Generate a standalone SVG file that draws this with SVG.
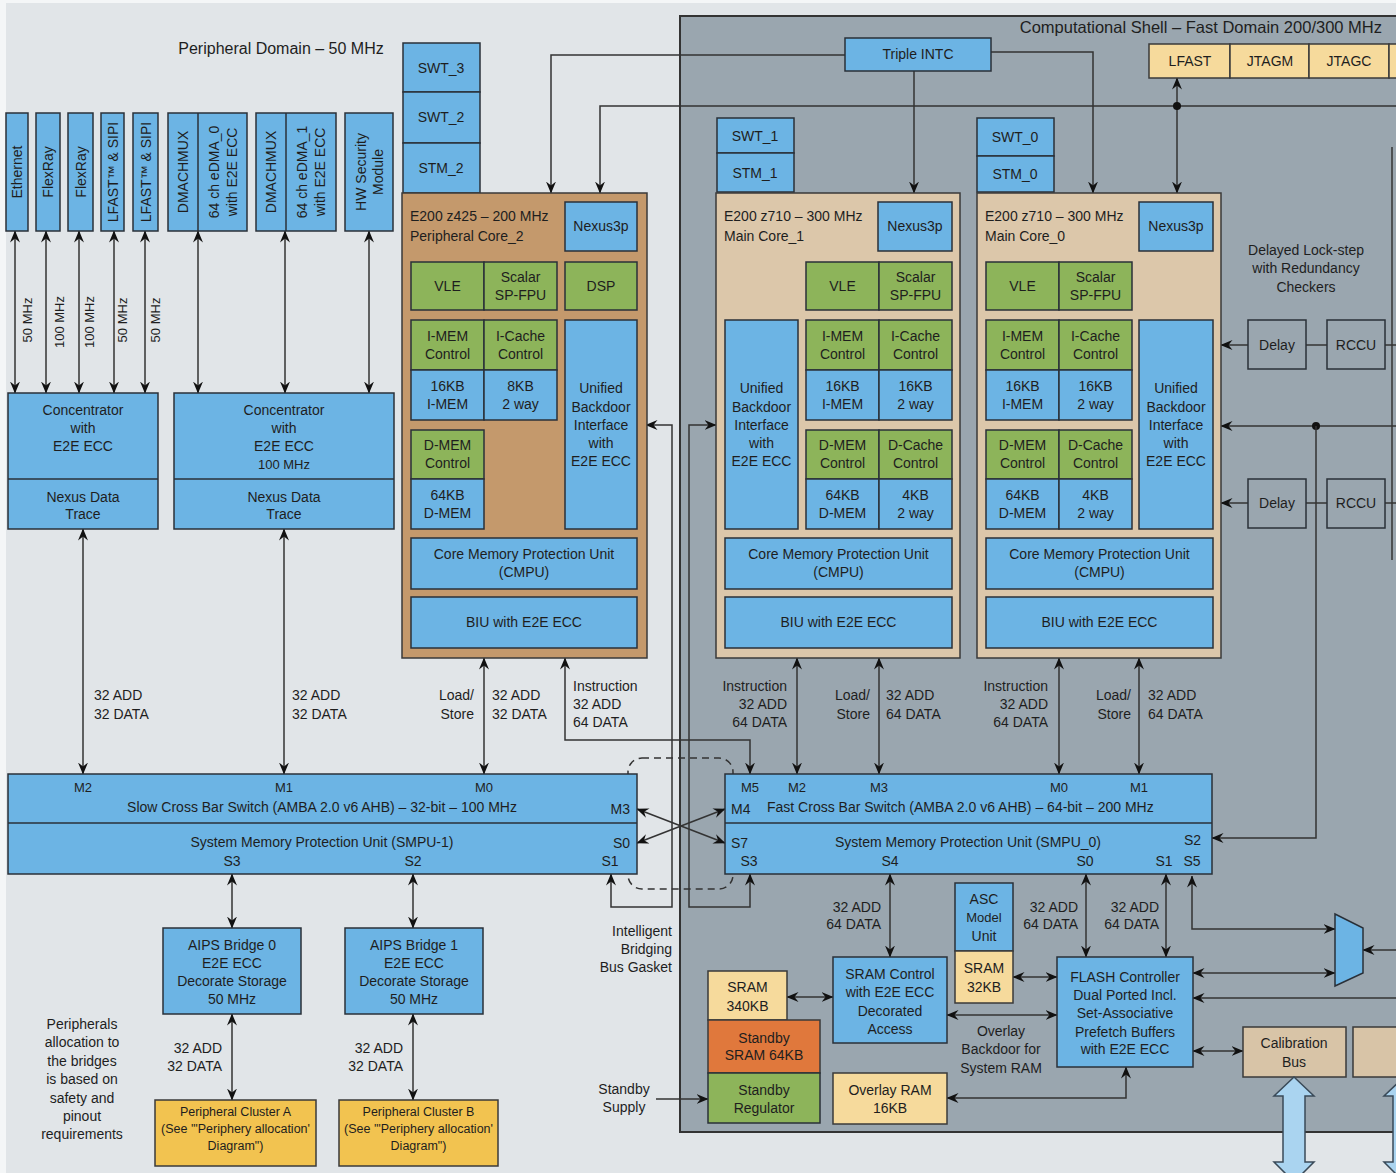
<svg xmlns="http://www.w3.org/2000/svg" width="1396" height="1173" viewBox="0 0 1396 1173">
<style>
.t{font-family:"Liberation Sans",Arial,sans-serif;font-size:14px;fill:#1e1e1e}
.m{text-anchor:middle}
.e{text-anchor:end}
.s{font-size:13px}
.xs{font-size:12.5px}
.bl{fill:#6cb4e4;stroke:#2a3038;stroke-width:1.5}
.gr{fill:#8db45a;stroke:#2a3038;stroke-width:1.5}
.br{fill:#c4996c;stroke:#3a3a3a;stroke-width:1.5}
.tn{fill:#dcc7aa;stroke:#3a3a3a;stroke-width:1.5}
.ye{fill:#f6da9c;stroke:#3a3a3a;stroke-width:1.5}
.pc{fill:#f2c350;stroke:#3a3a3a;stroke-width:1.5}
.or{fill:#e0783c;stroke:#3a3a3a;stroke-width:1.5}
.cb{fill:#d8c4a7;stroke:#3a3a3a;stroke-width:1.5}
.nf{fill:none;stroke:#2a3038;stroke-width:1.5}
.ln{fill:none;stroke:#333;stroke-width:1.5}
.lb{fill:none;stroke:#333;stroke-width:1.5;marker-start:url(#a);marker-end:url(#a)}
.le{fill:none;stroke:#333;stroke-width:1.5;marker-end:url(#a)}
.ds{fill:none;stroke:#333;stroke-width:1.5;stroke-dasharray:7 5}
</style>
<defs>
<marker id="a" viewBox="0 0 12 10" refX="11.5" refY="5" markerWidth="12" markerHeight="10" markerUnits="userSpaceOnUse" orient="auto-start-reverse"><path d="M0,0 L12,5 L0,10 L4,5 Z" fill="#111"/></marker>
</defs>
<rect x="0" y="0" width="1396" height="1173" fill="#f4f6f7"/>
<rect x="6" y="3" width="1390" height="1170" fill="#e1e5e8"/>
<g id="shell">
<rect x="680" y="16" width="730" height="1116" fill="#9aa6af" stroke="#333" stroke-width="2"/>
<text class="t e" x="1382" y="33" style="font-size:16.5px">Computational Shell – Fast Domain 200/300 MHz</text>
</g>
<text class="t m" x="281" y="54" style="font-size:16px">Peripheral Domain – 50 MHz</text>

<g id="connectors">
<path class="lb" d="M15,231 V393"/>
<path class="lb" d="M46,231 V393"/>
<path class="lb" d="M79,231 V393"/>
<path class="lb" d="M114,231 V393"/>
<path class="lb" d="M145,231 V393"/>
<path class="lb" d="M198,231 V393"/>
<path class="lb" d="M285,231 V393"/>
<path class="lb" d="M369,231 V393"/>
<path class="lb" d="M83,529 V774"/>
<path class="lb" d="M284,529 V774"/>
<path class="le" d="M845,55 H551 V193"/>
<path class="le" d="M914,71 V193"/>
<path class="le" d="M991,52 H1093 V193"/>
<path class="le" d="M1396,106 H600 V193"/>
<path class="lb" d="M1177,78 V193"/>
<circle cx="1177" cy="106" r="4" fill="#111"/>
<path class="le" d="M1248,345 H1221"/>
<path class="ln" d="M1306,345 H1327"/>
<path class="ln" d="M1385,345 H1396"/>
<path class="le" d="M1248,503 H1221"/>
<path class="ln" d="M1306,503 H1327"/>
<path class="ln" d="M1385,503 H1396"/>
<path class="le" d="M1396,426 H1221"/>
<circle cx="1316" cy="426" r="4" fill="#111"/>
<path class="le" d="M1316,426 V838 H1212"/>
<path class="ln" d="M1392,147 V560"/>
<path class="lb" d="M484,658 V774"/>
<path class="lb" d="M565,658 V740 H750 V774"/>
<path class="lb" d="M797,658 V774"/>
<path class="lb" d="M879,658 V774"/>
<path class="lb" d="M1059,658 V774"/>
<path class="lb" d="M1139,658 V774"/>
<rect class="ds" x="628" y="758" width="105" height="131" rx="14"/>
<path class="lb" d="M637,809 L725,843"/>
<path class="lb" d="M725,809 L637,843"/>
<path class="lb" d="M646,425 H672 V907 H611 V874"/>
<path class="lb" d="M750,874 V907 H689 V425 H716"/>
<path class="lb" d="M232,874 V928"/>
<path class="lb" d="M413,874 V928"/>
<path class="lb" d="M232,1014 V1100"/>
<path class="lb" d="M413,1014 V1100"/>
<path class="lb" d="M890,874 V957"/>
<path class="lb" d="M1086,874 V957"/>
<path class="lb" d="M1166,874 V957"/>
<path class="lb" d="M787,997 H833"/>
<path class="lb" d="M1013,977 H1057"/>
<path class="lb" d="M947,1015 H1057"/>
<path class="lb" d="M1126,1067 V1098 H947"/>
<path class="le" d="M656,1099 H708"/>
<path class="lb" d="M1335,929 H1192 V876"/>
<path class="lb" d="M1193,973 H1335"/>
<path class="le" d="M1396,950 H1363"/>
<path class="le" d="M1396,998 H1193"/>
<path class="lb" d="M1193,1051 H1243"/>
</g>

<g id="mhz-labels">
<text class="t s m" transform="translate(27,320) rotate(-90)" y="5">50 MHz</text>
<text class="t s m" transform="translate(59,322) rotate(-90)" y="5">100 MHz</text>
<text class="t s m" transform="translate(89,322) rotate(-90)" y="5">100 MHz</text>
<text class="t s m" transform="translate(122,320) rotate(-90)" y="5">50 MHz</text>
<text class="t s m" transform="translate(155,320) rotate(-90)" y="5">50 MHz</text>
</g>

<g id="ethernet"><rect class="bl" x="6" y="113" width="22" height="118"/><text class="t m" transform="translate(17,172) rotate(-90)" y="5">Ethernet</text></g>
<g id="flexray1"><rect class="bl" x="36" y="113" width="24" height="118"/><text class="t m" transform="translate(48,172) rotate(-90)" y="5">FlexRay</text></g>
<g id="flexray2"><rect class="bl" x="68" y="113" width="25" height="118"/><text class="t m" transform="translate(80.5,172) rotate(-90)" y="5">FlexRay</text></g>
<g id="lfast1"><rect class="bl" x="101" y="113" width="23" height="118"/><text class="t m" transform="translate(112.5,172) rotate(-90)" y="5">LFAST™ &amp; SIPI</text></g>
<g id="lfast2"><rect class="bl" x="133" y="113" width="25" height="118"/><text class="t m" transform="translate(145.5,172) rotate(-90)" y="5">LFAST™ &amp; SIPI</text></g>
<g id="dma0"><rect class="bl" x="168" y="113" width="79" height="118"/><path class="nf" d="M198,113 V231"/>
<text class="t m" transform="translate(183,172) rotate(-90)" y="5">DMACHMUX</text>
<text class="t m" transform="translate(214,172) rotate(-90)" y="5">64 ch eDMA_0</text>
<text class="t m" transform="translate(232,172) rotate(-90)" y="5">with E2E ECC</text></g>
<g id="dma1"><rect class="bl" x="256" y="113" width="80" height="118"/><path class="nf" d="M286,113 V231"/>
<text class="t m" transform="translate(271,172) rotate(-90)" y="5">DMACHMUX</text>
<text class="t m" transform="translate(302,172) rotate(-90)" y="5">64 ch eDMA_1</text>
<text class="t m" transform="translate(320,172) rotate(-90)" y="5">with E2E ECC</text></g>
<g id="hsm"><rect class="bl" x="345" y="113" width="48" height="118"/>
<text class="t m" transform="translate(361,172) rotate(-90)" y="5">HW Security</text>
<text class="t m" transform="translate(378,172) rotate(-90)" y="5">Module</text></g>

<g id="conc1"><rect class="bl" x="8" y="393" width="150" height="136"/><path class="nf" d="M8,479 H158"/>
<text class="t m" x="83" y="415">Concentrator</text><text class="t m" x="83" y="433">with</text><text class="t m" x="83" y="451">E2E ECC</text>
<text class="t m" x="83" y="502">Nexus Data</text><text class="t m" x="83" y="519">Trace</text></g>
<g id="conc2"><rect class="bl" x="174" y="393" width="220" height="136"/><path class="nf" d="M174,479 H394"/>
<text class="t m" x="284" y="415">Concentrator</text><text class="t m" x="284" y="433">with</text><text class="t m" x="284" y="451">E2E ECC</text><text class="t s m" x="284" y="469">100 MHz</text>
<text class="t m" x="284" y="502">Nexus Data</text><text class="t m" x="284" y="519">Trace</text></g>

<g id="swt-stack2"><rect class="bl" x="403" y="43" width="77" height="49"/><rect class="bl" x="403" y="92" width="77" height="51"/><rect class="bl" x="403" y="143" width="77" height="50"/>
<text class="t m" x="441" y="73">SWT_3</text><text class="t m" x="441" y="122">SWT_2</text><text class="t m" x="441" y="173">STM_2</text></g>

<g id="core2"><rect class="br" x="402" y="193" width="245" height="465"/>
<text class="t" x="410" y="221">E200 z425 – 200 MHz</text><text class="t" x="410" y="241">Peripheral Core_2</text>
<rect class="bl" x="565" y="202" width="72" height="49"/><text class="t m" x="601" y="231">Nexus3p</text>
<rect class="gr" x="411" y="262" width="73" height="48"/><text class="t m" x="447.5" y="291">VLE</text>
<rect class="gr" x="484" y="262" width="73" height="48"/><text class="t m" x="520.5" y="282">Scalar</text><text class="t m" x="520.5" y="300">SP-FPU</text>
<rect class="gr" x="565" y="262" width="72" height="48"/><text class="t m" x="601" y="291">DSP</text>
<rect class="gr" x="411" y="320" width="73" height="50"/><text class="t m" x="447.5" y="341">I-MEM</text><text class="t m" x="447.5" y="359">Control</text>
<rect class="gr" x="484" y="320" width="73" height="50"/><text class="t m" x="520.5" y="341">I-Cache</text><text class="t m" x="520.5" y="359">Control</text>
<rect class="bl" x="411" y="370" width="73" height="50"/><text class="t m" x="447.5" y="391">16KB</text><text class="t m" x="447.5" y="409">I-MEM</text>
<rect class="bl" x="484" y="370" width="73" height="50"/><text class="t m" x="520.5" y="391">8KB</text><text class="t m" x="520.5" y="409">2 way</text>
<rect class="gr" x="411" y="430" width="73" height="49"/><text class="t m" x="447.5" y="450">D-MEM</text><text class="t m" x="447.5" y="468">Control</text>
<rect class="bl" x="411" y="479" width="73" height="50"/><text class="t m" x="447.5" y="500">64KB</text><text class="t m" x="447.5" y="518">D-MEM</text>
<rect class="bl" x="565" y="320" width="72" height="209"/>
<text class="t m" x="601" y="393">Unified</text><text class="t m" x="601" y="412">Backdoor</text><text class="t m" x="601" y="430">Interface</text><text class="t m" x="601" y="448">with</text><text class="t m" x="601" y="466">E2E ECC</text>
<rect class="bl" x="411" y="538" width="226" height="51"/><text class="t m" x="524" y="559">Core Memory Protection Unit</text><text class="t m" x="524" y="577">(CMPU)</text>
<rect class="bl" x="411" y="597" width="226" height="51"/><text class="t m" x="524" y="627">BIU with E2E ECC</text></g>

<g id="intc"><rect class="bl" x="845" y="38" width="146" height="33"/><text class="t m" x="918" y="59">Triple INTC</text></g>
<g id="debug"><rect class="ye" x="1149" y="44" width="81" height="34"/><rect class="ye" x="1230" y="44" width="79" height="34"/><rect class="ye" x="1309" y="44" width="80" height="34"/><rect class="ye" x="1389" y="44" width="40" height="34"/>
<text class="t m" x="1190" y="66">LFAST</text><text class="t m" x="1270" y="66">JTAGM</text><text class="t m" x="1349" y="66">JTAGC</text></g>

<g id="swt-stack1"><rect class="bl" x="717" y="118" width="77" height="35"/><rect class="bl" x="717" y="153" width="77" height="39"/>
<text class="t m" x="755" y="141">SWT_1</text><text class="t m" x="755" y="178">STM_1</text></g>
<g id="swt-stack0"><rect class="bl" x="977" y="118" width="77" height="38"/><rect class="bl" x="977" y="156" width="77" height="36"/>
<text class="t m" x="1015" y="142">SWT_0</text><text class="t m" x="1015" y="179">STM_0</text></g>

<g id="core1"><rect class="tn" x="716" y="193" width="244" height="465"/>
<text class="t" x="724" y="221">E200 z710 – 300 MHz</text><text class="t" x="724" y="241">Main Core_1</text>
<rect class="bl" x="878" y="202" width="74" height="49"/><text class="t m" x="915" y="231">Nexus3p</text>
<rect class="gr" x="806" y="262" width="73" height="48"/><text class="t m" x="842.5" y="291">VLE</text>
<rect class="gr" x="879" y="262" width="73" height="48"/><text class="t m" x="915.5" y="282">Scalar</text><text class="t m" x="915.5" y="300">SP-FPU</text>
<rect class="bl" x="725" y="320" width="73" height="209"/>
<text class="t m" x="761.5" y="393">Unified</text><text class="t m" x="761.5" y="412">Backdoor</text><text class="t m" x="761.5" y="430">Interface</text><text class="t m" x="761.5" y="448">with</text><text class="t m" x="761.5" y="466">E2E ECC</text>
<rect class="gr" x="806" y="320" width="73" height="50"/><text class="t m" x="842.5" y="341">I-MEM</text><text class="t m" x="842.5" y="359">Control</text>
<rect class="gr" x="879" y="320" width="73" height="50"/><text class="t m" x="915.5" y="341">I-Cache</text><text class="t m" x="915.5" y="359">Control</text>
<rect class="bl" x="806" y="370" width="73" height="50"/><text class="t m" x="842.5" y="391">16KB</text><text class="t m" x="842.5" y="409">I-MEM</text>
<rect class="bl" x="879" y="370" width="73" height="50"/><text class="t m" x="915.5" y="391">16KB</text><text class="t m" x="915.5" y="409">2 way</text>
<rect class="gr" x="806" y="430" width="73" height="49"/><text class="t m" x="842.5" y="450">D-MEM</text><text class="t m" x="842.5" y="468">Control</text>
<rect class="gr" x="879" y="430" width="73" height="49"/><text class="t m" x="915.5" y="450">D-Cache</text><text class="t m" x="915.5" y="468">Control</text>
<rect class="bl" x="806" y="479" width="73" height="50"/><text class="t m" x="842.5" y="500">64KB</text><text class="t m" x="842.5" y="518">D-MEM</text>
<rect class="bl" x="879" y="479" width="73" height="50"/><text class="t m" x="915.5" y="500">4KB</text><text class="t m" x="915.5" y="518">2 way</text>
<rect class="bl" x="725" y="538" width="227" height="51"/><text class="t m" x="838.5" y="559">Core Memory Protection Unit</text><text class="t m" x="838.5" y="577">(CMPU)</text>
<rect class="bl" x="725" y="597" width="227" height="51"/><text class="t m" x="838.5" y="627">BIU with E2E ECC</text></g>

<g id="core0"><rect class="tn" x="977" y="193" width="244" height="465"/>
<text class="t" x="985" y="221">E200 z710 – 300 MHz</text><text class="t" x="985" y="241">Main Core_0</text>
<rect class="bl" x="1139" y="202" width="74" height="49"/><text class="t m" x="1176" y="231">Nexus3p</text>
<rect class="gr" x="986" y="262" width="73" height="48"/><text class="t m" x="1022.5" y="291">VLE</text>
<rect class="gr" x="1059" y="262" width="73" height="48"/><text class="t m" x="1095.5" y="282">Scalar</text><text class="t m" x="1095.5" y="300">SP-FPU</text>
<rect class="gr" x="986" y="320" width="73" height="50"/><text class="t m" x="1022.5" y="341">I-MEM</text><text class="t m" x="1022.5" y="359">Control</text>
<rect class="gr" x="1059" y="320" width="73" height="50"/><text class="t m" x="1095.5" y="341">I-Cache</text><text class="t m" x="1095.5" y="359">Control</text>
<rect class="bl" x="986" y="370" width="73" height="50"/><text class="t m" x="1022.5" y="391">16KB</text><text class="t m" x="1022.5" y="409">I-MEM</text>
<rect class="bl" x="1059" y="370" width="73" height="50"/><text class="t m" x="1095.5" y="391">16KB</text><text class="t m" x="1095.5" y="409">2 way</text>
<rect class="gr" x="986" y="430" width="73" height="49"/><text class="t m" x="1022.5" y="450">D-MEM</text><text class="t m" x="1022.5" y="468">Control</text>
<rect class="gr" x="1059" y="430" width="73" height="49"/><text class="t m" x="1095.5" y="450">D-Cache</text><text class="t m" x="1095.5" y="468">Control</text>
<rect class="bl" x="986" y="479" width="73" height="50"/><text class="t m" x="1022.5" y="500">64KB</text><text class="t m" x="1022.5" y="518">D-MEM</text>
<rect class="bl" x="1059" y="479" width="73" height="50"/><text class="t m" x="1095.5" y="500">4KB</text><text class="t m" x="1095.5" y="518">2 way</text>
<rect class="bl" x="1139" y="320" width="74" height="209"/>
<text class="t m" x="1176" y="393">Unified</text><text class="t m" x="1176" y="412">Backdoor</text><text class="t m" x="1176" y="430">Interface</text><text class="t m" x="1176" y="448">with</text><text class="t m" x="1176" y="466">E2E ECC</text>
<rect class="bl" x="986" y="538" width="227" height="51"/><text class="t m" x="1099.5" y="559">Core Memory Protection Unit</text><text class="t m" x="1099.5" y="577">(CMPU)</text>
<rect class="bl" x="986" y="597" width="227" height="51"/><text class="t m" x="1099.5" y="627">BIU with E2E ECC</text></g>

<g id="lockstep">
<text class="t m" x="1306" y="255">Delayed Lock-step</text><text class="t m" x="1306" y="273">with Redundancy</text><text class="t m" x="1306" y="292">Checkers</text>
<rect class="nf" x="1248" y="320" width="58" height="49"/><text class="t m" x="1277" y="350">Delay</text>
<rect class="nf" x="1327" y="320" width="58" height="49"/><text class="t m" x="1356" y="350">RCCU</text>
<rect class="nf" x="1248" y="479" width="58" height="49"/><text class="t m" x="1277" y="508">Delay</text>
<rect class="nf" x="1327" y="479" width="58" height="49"/><text class="t m" x="1356" y="508">RCCU</text>
</g>

<g id="bus-labels">
<text class="t" x="94" y="700">32 ADD</text><text class="t" x="94" y="719">32 DATA</text>
<text class="t" x="292" y="700">32 ADD</text><text class="t" x="292" y="719">32 DATA</text>
<text class="t e" x="474" y="700">Load/</text><text class="t e" x="474" y="719">Store</text>
<text class="t" x="492" y="700">32 ADD</text><text class="t" x="492" y="719">32 DATA</text>
<text class="t" x="573" y="691">Instruction</text><text class="t" x="573" y="709">32 ADD</text><text class="t" x="573" y="727">64 DATA</text>
<text class="t e" x="787" y="691">Instruction</text><text class="t e" x="787" y="709">32 ADD</text><text class="t e" x="787" y="727">64 DATA</text>
<text class="t e" x="870" y="700">Load/</text><text class="t e" x="870" y="719">Store</text>
<text class="t" x="886" y="700">32 ADD</text><text class="t" x="886" y="719">64 DATA</text>
<text class="t e" x="1048" y="691">Instruction</text><text class="t e" x="1048" y="709">32 ADD</text><text class="t e" x="1048" y="727">64 DATA</text>
<text class="t e" x="1131" y="700">Load/</text><text class="t e" x="1131" y="719">Store</text>
<text class="t" x="1148" y="700">32 ADD</text><text class="t" x="1148" y="719">64 DATA</text>
<text class="t e" x="222" y="1053">32 ADD</text><text class="t e" x="222" y="1071">32 DATA</text>
<text class="t e" x="403" y="1053">32 ADD</text><text class="t e" x="403" y="1071">32 DATA</text>
<text class="t e" x="881" y="912">32 ADD</text><text class="t e" x="881" y="929">64 DATA</text>
<text class="t e" x="1078" y="912">32 ADD</text><text class="t e" x="1078" y="929">64 DATA</text>
<text class="t e" x="1159" y="912">32 ADD</text><text class="t e" x="1159" y="929">64 DATA</text>
<text class="t e" x="672" y="936">Intelligent</text><text class="t e" x="672" y="954">Bridging</text><text class="t e" x="672" y="972">Bus Gasket</text>
<text class="t m" x="624" y="1094">Standby</text><text class="t m" x="624" y="1112">Supply</text>
<text class="t m" x="1001" y="1036">Overlay</text><text class="t m" x="1001" y="1054">Backdoor for</text><text class="t m" x="1001" y="1073">System RAM</text>
<text class="t m" x="82" y="1029">Peripherals</text><text class="t m" x="82" y="1047">allocation to</text><text class="t m" x="82" y="1066">the bridges</text><text class="t m" x="82" y="1084">is based on</text><text class="t m" x="82" y="1103">safety and</text><text class="t m" x="82" y="1121">pinout</text><text class="t m" x="82" y="1139">requirements</text>
</g>

<g id="slow-xbar"><rect class="bl" x="8" y="774" width="629" height="100"/><path class="nf" d="M8,823 H637"/>
<text class="t s m" x="83" y="792">M2</text><text class="t s m" x="284" y="792">M1</text><text class="t s m" x="484" y="792">M0</text>
<text class="t m" x="322" y="812">Slow Cross Bar Switch (AMBA 2.0 v6 AHB) – 32-bit – 100 MHz</text>
<text class="t e" x="630" y="814">M3</text>
<text class="t m" x="322" y="847">System Memory Protection Unit (SMPU-1)</text>
<text class="t e" x="630" y="848">S0</text>
<text class="t m" x="232" y="866">S3</text><text class="t m" x="413" y="866">S2</text><text class="t m" x="610" y="866">S1</text></g>

<g id="fast-xbar"><rect class="bl" x="725" y="774" width="487" height="100"/><path class="nf" d="M725,823 H1212"/>
<text class="t s m" x="750" y="792">M5</text><text class="t s m" x="797" y="792">M2</text><text class="t s m" x="879" y="792">M3</text><text class="t s m" x="1059" y="792">M0</text><text class="t s m" x="1139" y="792">M1</text>
<text class="t" x="731" y="814">M4</text>
<text class="t" x="767" y="812">Fast Cross Bar Switch (AMBA 2.0 v6 AHB) – 64-bit – 200 MHz</text>
<text class="t" x="731" y="848">S7</text>
<text class="t m" x="968" y="847">System Memory Protection Unit (SMPU_0)</text>
<text class="t e" x="1201" y="845">S2</text>
<text class="t m" x="749" y="866">S3</text><text class="t m" x="890" y="866">S4</text><text class="t m" x="1085" y="866">S0</text><text class="t m" x="1164" y="866">S1</text><text class="t m" x="1192" y="866">S5</text></g>

<g id="aips0"><rect class="bl" x="163" y="928" width="138" height="86"/>
<text class="t m" x="232" y="950">AIPS Bridge 0</text><text class="t m" x="232" y="968">E2E ECC</text><text class="t m" x="232" y="986">Decorate Storage</text><text class="t m" x="232" y="1004">50 MHz</text></g>
<g id="aips1"><rect class="bl" x="345" y="928" width="138" height="86"/>
<text class="t m" x="414" y="950">AIPS Bridge 1</text><text class="t m" x="414" y="968">E2E ECC</text><text class="t m" x="414" y="986">Decorate Storage</text><text class="t m" x="414" y="1004">50 MHz</text></g>
<g id="clusterA"><rect class="pc" x="155" y="1100" width="161" height="66"/>
<text class="t xs m" x="235.5" y="1116">Peripheral Cluster A</text><text class="t xs m" x="235.5" y="1133">(See '"Periphery allocation'</text><text class="t xs m" x="235.5" y="1150">Diagram")</text></g>
<g id="clusterB"><rect class="pc" x="339" y="1100" width="159" height="66"/>
<text class="t xs m" x="418.5" y="1116">Peripheral Cluster B</text><text class="t xs m" x="418.5" y="1133">(See '"Periphery allocation'</text><text class="t xs m" x="418.5" y="1150">Diagram")</text></g>

<g id="sram340"><rect class="ye" x="708" y="971" width="79" height="49"/><text class="t m" x="747.5" y="992">SRAM</text><text class="t m" x="747.5" y="1011">340KB</text></g>
<g id="standby-sram"><rect class="or" x="708" y="1020" width="112" height="53"/><text class="t m" x="764" y="1043">Standby</text><text class="t m" x="764" y="1060">SRAM 64KB</text></g>
<g id="standby-reg"><rect class="gr" x="708" y="1073" width="112" height="50"/><text class="t m" x="764" y="1095">Standby</text><text class="t m" x="764" y="1113">Regulator</text></g>
<g id="sram-ctrl"><rect class="bl" x="833" y="957" width="114" height="86"/>
<text class="t m" x="890" y="979">SRAM Control</text><text class="t m" x="890" y="997">with E2E ECC</text><text class="t m" x="890" y="1016">Decorated</text><text class="t m" x="890" y="1034">Access</text></g>
<g id="asc"><rect class="bl" x="955" y="883" width="58" height="68"/>
<text class="t m" x="984" y="904">ASC</text><text class="t s m" x="984" y="922">Model</text><text class="t m" x="984" y="941">Unit</text></g>
<g id="sram32"><rect class="ye" x="955" y="951" width="58" height="52"/><text class="t m" x="984" y="973">SRAM</text><text class="t m" x="984" y="992">32KB</text></g>
<g id="flash"><rect class="bl" x="1057" y="957" width="136" height="110"/>
<text class="t m" x="1125" y="982">FLASH Controller</text><text class="t m" x="1125" y="1000">Dual Ported Incl.</text><text class="t m" x="1125" y="1018">Set-Associative</text><text class="t m" x="1125" y="1037">Prefetch Buffers</text><text class="t m" x="1125" y="1054">with E2E ECC</text></g>
<g id="overlay-ram"><rect class="ye" x="833" y="1073" width="114" height="51"/><text class="t m" x="890" y="1095">Overlay RAM</text><text class="t m" x="890" y="1113">16KB</text></g>
<g id="mux"><path d="M1335,914 L1363,928 L1363,973 L1335,986 Z" fill="#6cb4e4" stroke="#2a3038" stroke-width="1.5"/></g>
<g id="calib"><rect class="cb" x="1243" y="1027" width="103" height="50"/><text class="t m" x="1294" y="1048">Calibration</text><text class="t m" x="1294" y="1067">Bus</text></g>
<g id="calib2"><rect class="cb" x="1353" y="1027" width="70" height="50"/></g>
<g id="bus-arrows">
<path d="M1294,1077 L1314,1096 L1305,1096 L1305,1162 L1314,1162 L1294,1182 L1274,1162 L1283,1162 L1283,1096 L1274,1096 Z" fill="#aad4f0" stroke="#3a4a58" stroke-width="1.5"/>
<path d="M1404,1077 L1424,1096 L1415,1096 L1415,1162 L1424,1162 L1404,1182 L1384,1162 L1393,1162 L1393,1096 L1384,1096 Z" fill="#aad4f0" stroke="#3a4a58" stroke-width="1.5"/>
</g>
</svg>
